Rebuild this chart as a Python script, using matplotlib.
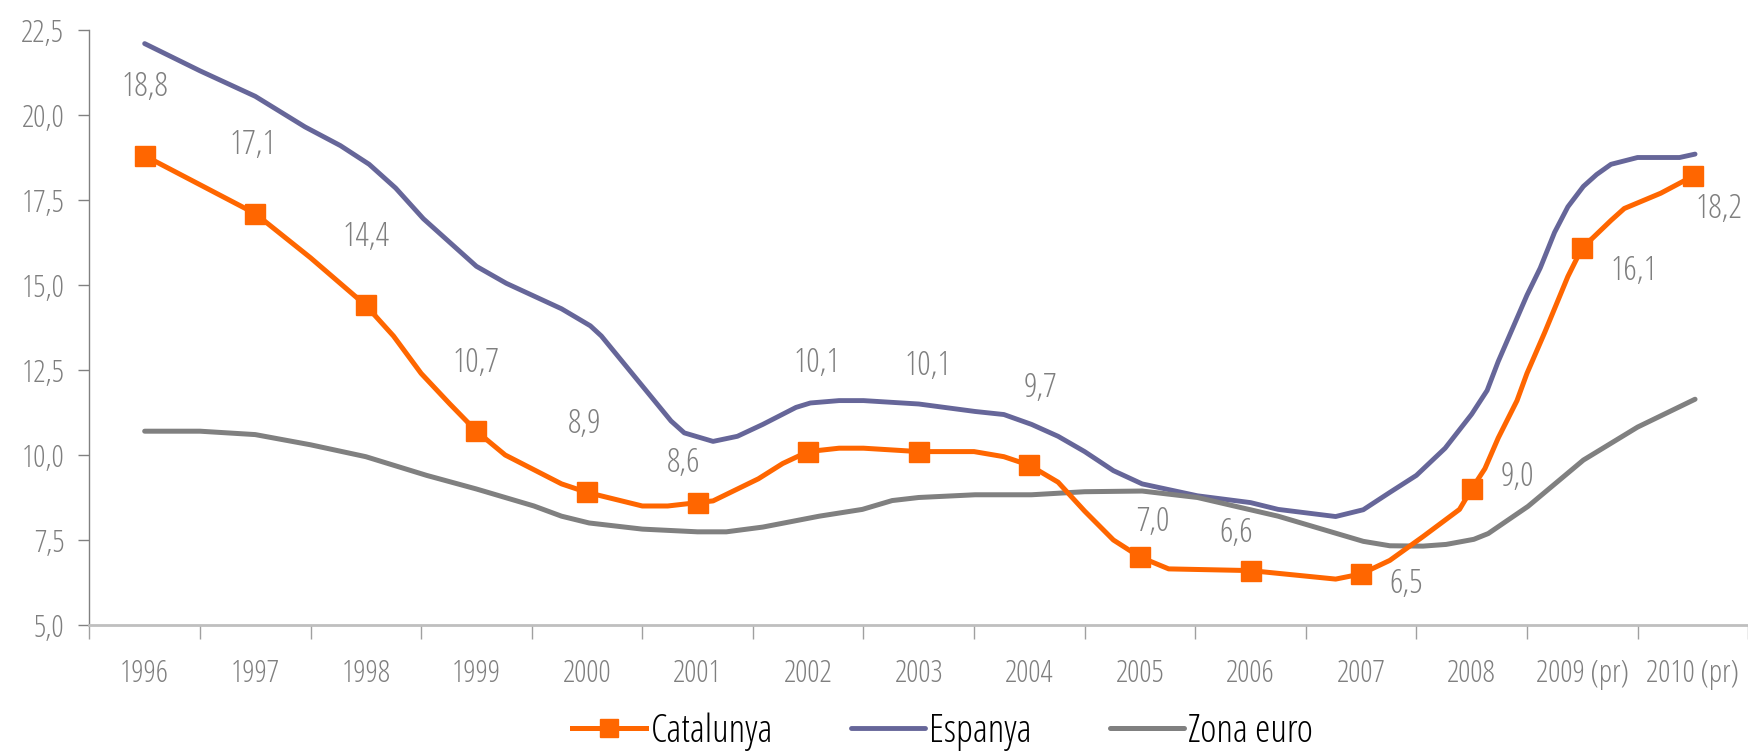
import matplotlib
matplotlib.use('Agg')
import matplotlib.pyplot as plt
from matplotlib.ticker import FixedLocator, FuncFormatter

plt.rcParams['font.family'] = ['Open Sans', 'DejaVu Sans']
plt.rcParams['font.stretch'] = 'condensed'

# ── categories ──
years = list(range(1996, 2011))
year_labels = ['1996', '1997', '1998', '1999', '2000', '2001', '2002', '2003', '2004',
               '2005', '2006', '2007', '2008', '2009 (pr)', '2010 (pr)']

# ── Catalunya (annual values shown as markers + intermediate points) ──
cat_x = [1996.0, 1996.5, 1997.0, 1997.5, 1998.0, 1998.25, 1998.5, 1998.76, 1999.0,
         1999.26, 1999.77, 2000.0, 2000.5, 2000.73, 2001.0, 2001.14, 2001.55, 2001.77,
         2002.0, 2002.28, 2002.5, 2003.0, 2003.5, 2003.77, 2004.0, 2004.26, 2004.5,
         2004.76, 2005.0, 2005.26, 2006.0, 2006.77, 2007.0, 2007.26, 2007.56, 2007.89,
         2008.0, 2008.12, 2008.24, 2008.41, 2008.5, 2008.66, 2008.87, 2009.0, 2009.1,
         2009.26, 2009.38, 2009.71, 2010.0]
cat_y = [18.8, 17.95, 17.1, 15.8, 14.4, 13.5, 12.4, 11.5, 10.7,
         10.0, 9.15, 8.9, 8.5, 8.5, 8.6, 8.65, 9.3, 9.75,
         10.1, 10.2, 10.2, 10.1, 10.1, 9.95, 9.7, 9.2, 8.35,
         7.5, 7.0, 6.65, 6.6, 6.35, 6.5, 6.9, 7.6, 8.4,
         9.0, 9.6, 10.5, 11.6, 12.4, 13.6, 15.25, 16.1, 16.4,
         16.9, 17.25, 17.7, 18.2]
cat_labels = ['18,8', '17,1', '14,4', '10,7', '8,9', '8,6', '10,1', '10,1', '9,7',
              '7,0', '6,6', '6,5', '9,0', '16,1', '18,2']

# ── Espanya ──
esp_x = [1996.0, 1996.5, 1997.0, 1997.45, 1997.77, 1998.03, 1998.27, 1998.52, 1999.0,
         1999.27, 1999.77, 2000.03, 2000.13, 2000.76, 2000.88, 2001.14, 2001.36, 2001.59,
         2001.77, 2001.89, 2002.02, 2002.28, 2002.5, 2003.0, 2003.51, 2003.77, 2004.02,
         2004.26, 2004.5, 2004.76, 2005.02, 2005.52, 2006.0, 2006.25, 2006.77, 2007.02,
         2007.26, 2007.5, 2007.76, 2008.0, 2008.14, 2008.24, 2008.5, 2008.62, 2008.75,
         2008.87, 2009.01, 2009.13, 2009.26, 2009.5, 2009.88, 2010.02]
esp_y = [22.1, 21.3, 20.55, 19.65, 19.1, 18.55, 17.85, 16.95, 15.55,
         15.05, 14.3, 13.8, 13.5, 11.0, 10.65, 10.4, 10.55, 10.9,
         11.2, 11.4, 11.53, 11.6, 11.6, 11.5, 11.28, 11.19, 10.9,
         10.55, 10.1, 9.54, 9.15, 8.8, 8.6, 8.4, 8.19, 8.39,
         8.9, 9.4, 10.2, 11.2, 11.9, 12.75, 14.7, 15.5, 16.55,
         17.3, 17.9, 18.25, 18.55, 18.75, 18.75, 18.85]

# ── Zona euro ──
eur_x = [1996.0, 1996.5, 1997.0, 1997.5, 1998.0, 1998.55, 1999.0, 1999.52, 1999.77,
         2000.02, 2000.5, 2001.0, 2001.26, 2001.59, 2002.1, 2002.49, 2002.76, 2003.0,
         2003.51, 2004.02, 2004.5, 2005.02, 2005.52, 2006.25, 2006.77, 2007.02, 2007.26,
         2007.56, 2007.77, 2008.02, 2008.15, 2008.51, 2009.01, 2009.5, 2010.02]
eur_y = [10.7, 10.7, 10.6, 10.3, 9.95, 9.4, 9.0, 8.5, 8.2,
         8.0, 7.82, 7.74, 7.74, 7.88, 8.2, 8.4, 8.66, 8.75,
         8.83, 8.83, 8.92, 8.94, 8.75, 8.2, 7.7, 7.46, 7.33,
         7.32, 7.37, 7.52, 7.69, 8.49, 9.85, 10.82, 11.64]

# label offsets in pixels (manual placement like the original)
label_offsets = [(0, 69), (-2, 68), (0, 68), (-1, 68), (-2, 68), (-14, 39), (9, 88), (9, 85),
                 (11, 77), (13, 35), (-14, 37), (45, -10), (46, 12), (52, -24), (26, -33)]

C_CAT = '#FF6600'
C_ESP = '#666699'
C_EUR = '#808080'
C_TXT = '#7F7F7F'

fig = plt.figure(figsize=(17.49, 7.56), dpi=100)
ax = fig.add_axes([0.0511, 0.1733, 0.9484, 0.787])

ax.plot(esp_x, esp_y, color=C_ESP, linewidth=3.5, solid_capstyle='round', label='Espanya', zorder=2)
ax.plot(eur_x, eur_y, color=C_EUR, linewidth=3.6, solid_capstyle='round', label='Zona euro', zorder=2)
mark_idx = [i for i, x in enumerate(cat_x) if x == int(x)]
ax.plot(cat_x, cat_y, color=C_CAT, linewidth=3.6, marker='s', markersize=15,
        markevery=mark_idx, markerfacecolor=C_CAT, markeredgecolor=C_CAT,
        label='Catalunya', zorder=3)

for i, yr in enumerate(years):
    val = cat_y[mark_idx[i]]
    dx, dy = label_offsets[i]
    ax.annotate(cat_labels[i], (yr, val), xytext=(dx, dy), textcoords='offset pixels',
                ha='center', va='center', fontsize=24, color=C_TXT)

ax.set_xlim(1995.5, 2010.5)
ax.set_ylim(5.0, 22.5)

ax.xaxis.set_major_locator(FixedLocator(years))
ax.set_xticklabels(year_labels)
ax.xaxis.set_minor_locator(FixedLocator([y + 0.5 for y in range(1995, 2011)]))
ax.tick_params(axis='x', which='major', length=0, pad=24, labelsize=22, labelcolor=C_TXT)
ax.tick_params(axis='x', which='minor', length=10, width=1, color='#A0A0A0', direction='out')

ax.set_yticks([5.0 + 2.5 * k for k in range(8)])
ax.yaxis.set_major_formatter(FuncFormatter(lambda v, p: f'{v:.1f}'.replace('.', ',')))
ax.tick_params(axis='y', length=8, width=1, color='#808080', pad=10, labelsize=22, labelcolor=C_TXT)

for s in ['top', 'right']:
    ax.spines[s].set_visible(False)
ax.spines['left'].set_color('#808080')
ax.spines['left'].set_linewidth(1)
ax.spines['bottom'].set_color('#BFBFBF')
ax.spines['bottom'].set_linewidth(2)

handles, labels = ax.get_legend_handles_labels()
order = [2, 0, 1]
leg = fig.legend([handles[i] for i in order], [labels[i] for i in order],
                 loc='center', bbox_to_anchor=(0.539, 0.032), ncol=3, frameon=False,
                 fontsize=28, handlelength=1.9, handletextpad=0.12, columnspacing=2.0,
                 markerscale=0.85, borderpad=0.1)
for t in leg.get_texts():
    t.set_color('black')

fig.savefig('out.png', dpi=100)
